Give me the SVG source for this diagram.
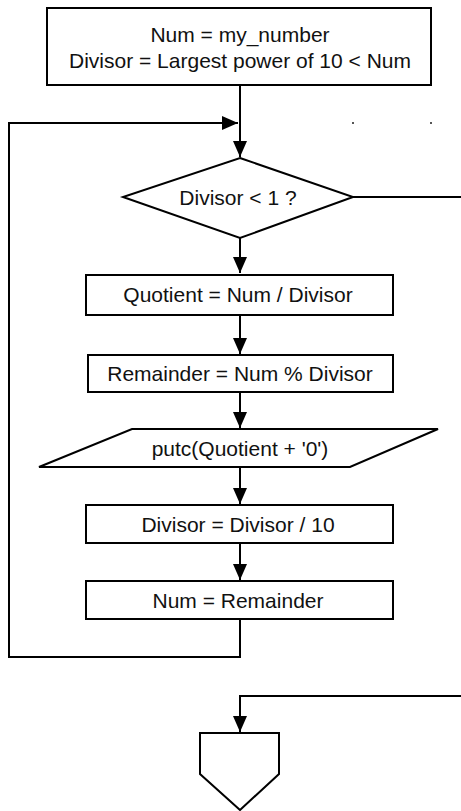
<svg xmlns="http://www.w3.org/2000/svg" width="461" height="811" viewBox="0 0 461 811">
  <style>
    .shape { fill: #ffffff; stroke: #000000; stroke-width: 2; }
    .edge { fill: none; stroke: #000000; stroke-width: 2; }
    .label { font-family: "Liberation Sans", Arial, sans-serif; font-size: 21px; fill: #111111; text-anchor: middle; }
  </style>
  <defs>
    <marker id="arrow" viewBox="0 0 16 14" refX="16" refY="7" markerWidth="16" markerHeight="14" markerUnits="userSpaceOnUse" orient="auto">
      <path d="M0,0 L16,7 L0,14 Z" fill="#000000"/>
    </marker>
  </defs>
  <rect width="461" height="811" fill="#ffffff"/>

  <!-- connectors -->
  <g id="connectors">
    <path class="edge" d="M240,85 V157" marker-end="url(#arrow)"/>
    <path class="edge" d="M240,619 V657 H9 V123 H238" marker-end="url(#arrow)"/>
    <path class="edge" d="M240,238 V273" marker-end="url(#arrow)"/>
    <path class="edge" d="M240,315 V354" marker-end="url(#arrow)"/>
    <path class="edge" d="M240,392 V428" marker-end="url(#arrow)"/>
    <path class="edge" d="M240,467 V504" marker-end="url(#arrow)"/>
    <path class="edge" d="M240,543 V580" marker-end="url(#arrow)"/>
    <path class="edge" d="M353,197 H461"/>
    <path class="edge" d="M461,696 H240 V732" marker-end="url(#arrow)"/>
    <rect x="352" y="122" width="2" height="2" fill="#555555"/>
    <rect x="430" y="122" width="2" height="2" fill="#555555"/>
  </g>

  <g id="init">
    <rect class="shape" x="47" y="8" width="384" height="77"/>
    <text class="label" x="240" y="42">Num = my_number</text>
    <text class="label" x="240" y="68">Divisor = Largest power of 10 &lt; Num</text>
  </g>

  <g id="test">
    <polygon class="shape" points="240,158 353,197 240,238 123,197"/>
    <text class="label" x="238" y="205">Divisor &lt; 1 ?</text>
  </g>

  <g id="quotient">
    <rect class="shape" x="86" y="275" width="307" height="40"/>
    <text class="label" x="238" y="302">Quotient = Num / Divisor</text>
  </g>

  <g id="remainder">
    <rect class="shape" x="88" y="355" width="305" height="37"/>
    <text class="label" x="240" y="381">Remainder = Num % Divisor</text>
  </g>

  <g id="output">
    <polygon class="shape" points="132,429 438,429 350,467 39,467"/>
    <text class="label" x="240" y="456">putc(Quotient + '0')</text>
  </g>

  <g id="shift">
    <rect class="shape" x="86" y="505" width="307" height="38"/>
    <text class="label" x="238" y="532">Divisor = Divisor / 10</text>
  </g>

  <g id="update">
    <rect class="shape" x="86" y="581" width="307" height="38"/>
    <text class="label" x="238" y="608">Num = Remainder</text>
  </g>

  <g id="end">
    <polygon class="shape" points="200,733 279,733 279,774 240,810 200,774"/>
  </g>
</svg>
